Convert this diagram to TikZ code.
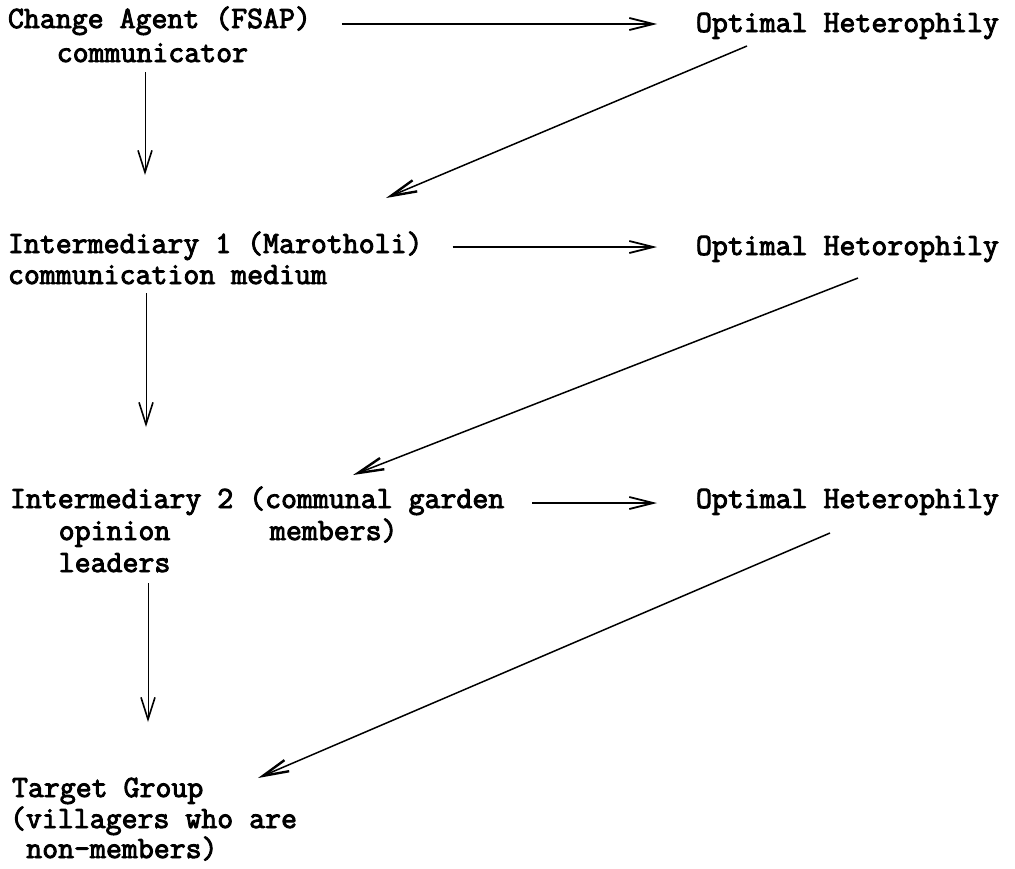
\documentclass[tikz,border=0pt]{standalone}
\usepackage{fontspec}
\newfontfamily\typewriter{Latin Modern Mono}[RawFeature={embolden=3}]
\usetikzlibrary{arrows.meta,calc}
\begin{document}
\begin{tikzpicture}[x=0.5pt,y=-0.5pt,
  txt/.style={anchor=base west,inner sep=0pt,outer sep=0pt,
    font=\typewriter\fontsize{15.48pt}{16pt}\selectfont},
  across/.style={line width=0.8pt,-{Straight Barb[length=12pt,width=6pt,line width=0.9pt]}},
  down/.style={line width=0.5pt,-{Straight Barb[length=11pt,width=7pt,line width=0.8pt]}},
  back/.style={line width=0.75pt,-{Straight Barb[length=13pt,width=6pt,line width=1.2pt]}}]
\useasboundingbox (0,0) rectangle (1015,868);

% left column: the chain of communicators
\node[txt] (ca)  at (8,28)      {Change Agent (FSAP)};
\node[txt] (ca2) at (56.75,62)  {communicator};
\node[txt] (im1) at (8,253)     {Intermediary 1 (Marotholi)};
\node[txt] (im1b) at (8,284)    {communication medium};
\node[txt] (im2) at (10,508)    {Intermediary 2 (communal garden};
\node[txt] (im2a) at (58.75,540) {opinion};
\node[txt] (im2b) at (270,540)  {members)};
\node[txt] (im2c) at (58.75,572) {leaders};
\node[txt] (tg1) at (12,797)    {Target Group};
\node[txt] (tg2) at (10,828)    {(villagers who are};
\node[txt] (tg3) at (26.25,858) {non-members)};

% right column
\node[txt] (oh1) at (696,32)  {Optimal Heterophily};
\node[txt] (oh2) at (696,255) {Optimal Hetorophily};
\node[txt] (oh3) at (696,508) {Optimal Heterophily};

% horizontal arrows
\draw[across] ($(ca.base east)+(31,-4)$) -- ($(ca.base east -| oh1.base west)+(-39,-4)$);
\draw[across] ($(im1.base east)+(30,-6)$) -- ($(im1.base east -| oh2.base west)+(-39,-6)$);
\draw[across] ($(im2.base east)+(28,-5)$) -- ($(im2.base east -| oh3.base west)+(-39,-5)$);

% vertical arrows
\draw[down] ($(ca2.base west)+(88.25,10)$) -- ($(im1.base west)+(137,-78)$);
\draw[down] ($(im1b.base west)+(138,9)$) -- ($(im2.base west)+(136,-81)$);
\draw[down] ($(im2c.base west)+(89.25,11)$) -- ($(tg1.base west)+(136,-75)$);

% diagonal arrows
\draw[back] ($(oh1.base west)+(51,14)$) -- ($(im1.base west)+(378,-55)$);
\draw[back] ($(oh2.base west)+(162,23)$) -- ($(im2.base west)+(343,-33)$);
\draw[back] ($(oh3.base west)+(134,25)$) -- ($(tg1.base west)+(246,-19)$);
\end{tikzpicture}
\end{document}
